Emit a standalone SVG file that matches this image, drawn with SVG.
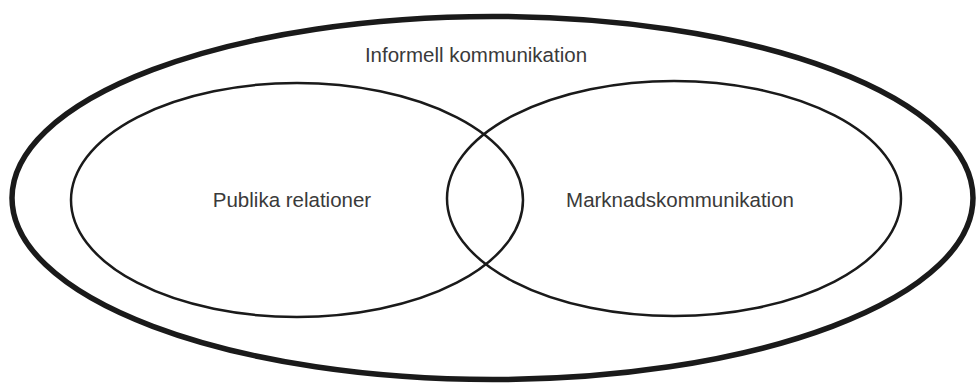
<svg xmlns="http://www.w3.org/2000/svg" width="977" height="385" viewBox="0 0 977 385">
<style>
.lbl{font-family:"Liberation Sans",Arial,sans-serif;font-size:20.5px;fill:#3a3a3a;text-anchor:middle}
.thin{fill:none;stroke:#1a1a1a;stroke-width:2.5}
.thick{fill:none;stroke:#1a1a1a;stroke-width:5.5}
</style>
<rect width="977" height="385" fill="#ffffff"/>
<g id="informell">
<ellipse class="thick" cx="492.5" cy="198" rx="480.5" ry="181.5"/>
<text class="lbl" x="476" y="62">Informell kommunikation</text>
</g>
<g id="publika">
<ellipse class="thin" cx="297" cy="200" rx="226" ry="117"/>
<text class="lbl" x="292" y="207">Publika relationer</text>
</g>
<g id="marknad">
<ellipse class="thin" cx="674" cy="198.5" rx="227" ry="117.5"/>
<text class="lbl" x="680" y="207">Marknadskommunikation</text>
</g>
<g id="connectors"></g>
</svg>
